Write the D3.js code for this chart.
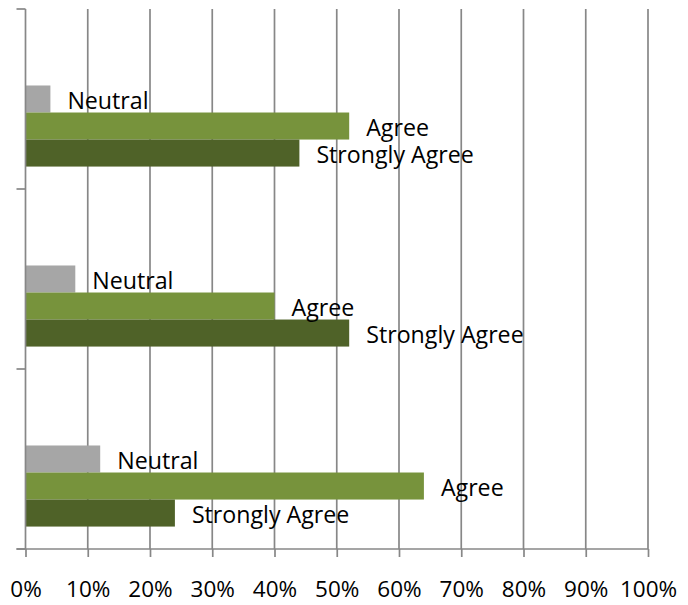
<!DOCTYPE html>
<html>
<head>
<meta charset="utf-8">
<script src="https://cdn.jsdelivr.net/npm/d3@7"></script>
<style>
 body{margin:0;background:#fff;}
 svg{display:block;font-family:"Open Sans",sans-serif;}
</style>
</head>
<body>
<svg id="chart" width="688" height="605"></svg>
<script>
// ===== data =====
const categories=["Q1","Q2","Q3"];
const series=["Strongly Disagree","Disagree","Neutral","Agree","Strongly Agree"];
const shown=["Neutral","Agree","Strongly Agree"];
const neutral=[0.04,0.08,0.12];
const agree=[0.52,0.40,0.64];
const stronglyAgree=[0.44,0.52,0.24];
const ticks=[0,0.1,0.2,0.3,0.4,0.5,0.6,0.7,0.8,0.9,1.0];

const colors={"Neutral":"#a6a6a6","Agree":"#77933c","Strongly Agree":"#4f6228"};
const values={"Neutral":neutral,"Agree":agree,"Strongly Agree":stronglyAgree};

const rows=[];
categories.forEach((c,i)=>shown.forEach(s=>rows.push({cat:c,s:s,v:values[s][i]})));

// ===== chart =====
const svg=d3.select("#chart");
const L=25.5,R=648,T=9,B=549;

const x=d3.scaleLinear().domain([0,1]).range([L,R]);
const y=d3.scaleBand().domain(categories).range([T,B]).padding(0);
const ys=d3.scaleBand().domain(series).range([0,y.bandwidth()]).paddingInner(0).paddingOuter(0.83);

// gridlines
svg.append("g").selectAll("line").data(ticks.slice(1)).enter().append("line")
 .attr("x1",d=>x(d)).attr("x2",d=>x(d))
 .attr("y1",T).attr("y2",B)
 .attr("stroke","#878787").attr("stroke-width",1.7);

// bars
svg.append("g").selectAll("rect").data(rows).enter().append("rect")
 .attr("x",x(0))
 .attr("y",d=>y(d.cat)+ys(d.s))
 .attr("width",d=>x(d.v)-x(0))
 .attr("height",ys.bandwidth())
 .attr("fill",d=>colors[d.s]);

// labels
svg.append("g").selectAll("text").data(rows).enter().append("text")
 .attr("x",d=>x(d.v)+17)
 .attr("y",d=>y(d.cat)+ys(d.s)+ys.bandwidth()/2+3.5)
 .attr("dominant-baseline","middle")
 .attr("font-size",23.2)
 .attr("fill","#000")
 .text(d=>d.s);

// x axis
const xa=svg.append("g").attr("transform",`translate(0,${B})`)
 .call(d3.axisBottom(x).tickValues(ticks).tickSize(8).tickPadding(24).tickFormat(d3.format(".0%")));
xa.select(".domain").attr("d",`M${L-9},0H${R}`);
xa.selectAll("line,path").attr("stroke","#878787").attr("stroke-width",1.7);
xa.selectAll("text").attr("font-size",22.5).attr("font-family","Open Sans").attr("fill","#000");

// y axis
const yb=[...categories.map(c=>y(c)),B];
const ya=svg.append("g").attr("transform",`translate(${L},0)`);
ya.append("line").attr("x1",0).attr("x2",0).attr("y1",T).attr("y2",B)
 .attr("stroke","#878787").attr("stroke-width",1.7);
ya.selectAll("line.tk").data(yb).enter().append("line").attr("class","tk")
 .attr("x1",-9).attr("x2",0).attr("y1",d=>d).attr("y2",d=>d)
 .attr("stroke","#878787").attr("stroke-width",1.7);
</script>
</body>
</html>
